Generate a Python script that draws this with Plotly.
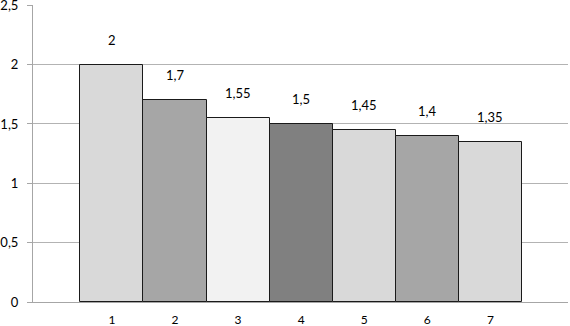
import plotly.graph_objects as go

categories = [1, 2, 3, 4, 5, 6, 7]
values = [2, 1.7, 1.55, 1.5, 1.45, 1.4, 1.35]
labels = ["2", "1,7", "1,55", "1,5", "1,45", "1,4", "1,35"]
colors = ["#d9d9d9", "#a6a6a6", "#f2f2f2", "#808080", "#d9d9d9", "#a6a6a6", "#d9d9d9"]
y_ticks = [0, 0.5, 1, 1.5, 2, 2.5]
y_ticklabels = ["0", "0,5", "1", "1,5", "2", "2,5"]

FONT = "Lato"

fig = go.Figure()
fig.add_trace(go.Bar(
    x=categories, y=values, width=1,
    marker=dict(color=colors, line=dict(color="#1a1a1a", width=1)),
    hoverinfo="skip",
))

for c, v, t in zip(categories, values, labels):
    fig.add_annotation(x=c, y=v, text=t, showarrow=False, yshift=25,
                       font=dict(family=FONT, size=13, color="#000000"))

fig.update_layout(
    width=570, height=326,
    margin=dict(l=33, r=2, t=5, b=24, autoexpand=False),
    paper_bgcolor="white", plot_bgcolor="white",
    showlegend=False,
    font=dict(family=FONT, size=12, color="#000000"),
    bargap=0,
)
fig.update_xaxes(
    range=[-0.25, 8.23], tickmode="array", tickvals=categories,
    ticktext=[str(c) for c in categories],
    showgrid=False, zeroline=False, automargin=False,
    showline=True, linecolor="#a6a6a6", linewidth=1,
    ticks="", ticklabelstandoff=7,
    tickfont=dict(family=FONT, size=12, color="#000000"),
)
fig.update_yaxes(
    range=[0, 2.502], tickmode="array", tickvals=y_ticks, ticktext=y_ticklabels,
    showgrid=True, gridcolor="#b3b3b3", gridwidth=1, zeroline=False, automargin=False,
    showline=True, linecolor="#a6a6a6", linewidth=1,
    ticks="outside", ticklen=5, tickcolor="#a6a6a6",
    ticklabelstandoff=6, ticklabeloverflow="allow",
    tickfont=dict(family=FONT, size=13, color="#000000"),
)

fig.write_html(
    "out.html",
    config={"displayModeBar": False},
    post_script="document.body.style.margin='0';document.body.style.padding='0';",
)
